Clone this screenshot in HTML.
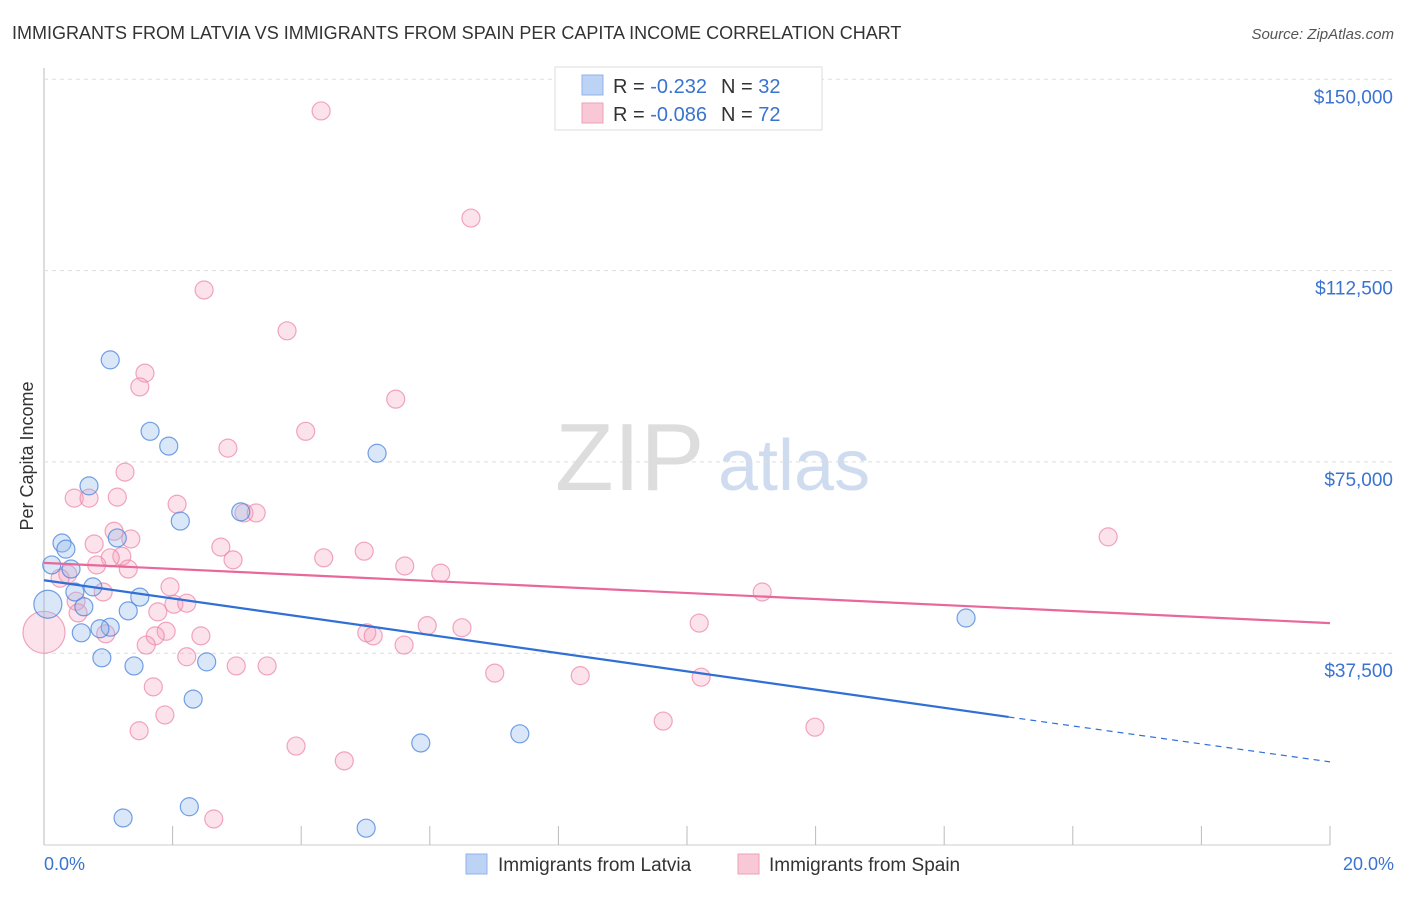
<!DOCTYPE html>
<html><head><meta charset="utf-8"><style>
body{margin:0;background:#fff;font-family:"Liberation Sans",sans-serif;}
svg text{font-family:"Liberation Sans",sans-serif;}
</style></head><body>
<svg id="c" width="1406" height="892">
<text x="12" y="39" font-size="18" fill="#333">IMMIGRANTS FROM LATVIA VS IMMIGRANTS FROM SPAIN PER CAPITA INCOME CORRELATION CHART</text>
<text x="1394" y="39" font-size="15" fill="#555" font-style="italic" text-anchor="end">Source: ZipAtlas.com</text>
<text x="33" y="456" font-size="18" fill="#333" text-anchor="middle" transform="rotate(-90 33 456)">Per Capita Income</text>
<text x="555" y="490" font-size="96" fill="#ddd" font-family="Liberation Serif">ZIP</text>
<text x="718" y="490" font-size="72" fill="#cfdcf0">atlas</text>
<g id="grid"></g><g id="pts"></g><g id="lines"></g>
<g>
<rect x="555" y="67" width="267" height="63" fill="#fff" stroke="#ddd"/>
<rect x="582" y="75" width="21" height="20" fill="#bcd3f5" stroke="#8fb3ea"/>
<rect x="582" y="103" width="21" height="20" fill="#f9c8d6" stroke="#f0a0b8"/>
<text x="613" y="93" font-size="20" fill="#333">R = <tspan fill="#3a73d0"> -0.232</tspan><tspan dx="14">N = </tspan><tspan fill="#3a73d0">32</tspan></text>
<text x="613" y="121" font-size="20" fill="#333">R = <tspan fill="#3a73d0">-0.086</tspan><tspan dx="14">N = </tspan><tspan fill="#3a73d0">72</tspan></text>
</g>
<g>
<rect x="466" y="854" width="21" height="20" fill="#bcd3f5" stroke="#8fb3ea"/>
<text x="498" y="871" font-size="19" fill="#333">Immigrants from Latvia</text>
<rect x="738" y="854" width="21" height="20" fill="#f9c8d6" stroke="#f0a0b8"/>
<text x="769" y="871" font-size="19" fill="#333">Immigrants from Spain</text>
</g>
<text x="44" y="870" font-size="18" fill="#3a73d0">0.0%</text>
<text x="1394" y="870" font-size="18" fill="#3a73d0" text-anchor="end">20.0%</text>
</svg>
<script>
const yTicks=[37500,75000,112500,150000];
const yTickLabels=["$37,500","$75,000","$112,500","$150,000"];
const latviaX=[1.03,1.65,1.94,5.18,0.70,2.12,3.06,0.28,0.34,1.14,0.12,0.42,0.76,0.48,1.49,0.62,1.31,14.34,1.03,0.87,0.58,0.90,1.40,2.53,2.32,5.86,7.40,2.26,1.23,5.01,0.06];
const latviaY=[95000,81000,78100,76700,70300,63400,65200,59100,57900,60100,54800,54000,50500,49500,48500,46600,45800,44400,42600,42300,41500,36600,35000,35800,28500,19900,21700,7400,5200,3200,47100];
const spainX=[4.31,6.64,2.49,3.78,1.57,1.49,5.47,4.07,2.86,1.26,0.47,0.70,1.14,2.07,3.11,3.30,16.55,1.09,1.35,0.78,2.75,4.98,1.21,4.35,2.94,1.03,0.82,1.31,5.61,6.17,0.37,0.25,1.96,11.17,0.92,0.50,2.02,2.22,1.77,0.53,10.19,5.96,6.50,1.90,2.44,1.73,0.96,5.02,5.12,1.59,5.60,2.22,2.99,3.47,7.01,8.34,10.22,1.70,1.88,1.48,9.63,11.99,3.92,4.67,2.64,0.0];
const spainY=[143800,122800,108700,100700,92400,89700,87300,81000,77700,73000,67900,67900,68100,66700,65000,65000,60300,61400,59900,58900,58300,57500,56500,56200,55800,56200,54800,54000,54600,53200,53000,52200,50500,49500,49500,47700,47100,47300,45600,45400,43400,42900,42500,41800,40900,40900,41300,41500,40900,39100,39100,36800,35000,35000,33600,33100,32800,30900,25400,22300,24200,23000,19300,16400,5000,41600];
const latviaTrend=[51800,25000,16200];
const spainTrend=[55200,43400];
const X=v=>44+v*64.3, Y=v=>844.5-v/196.03;
const NS="http://www.w3.org/2000/svg";
function mk(p,t,a){const e=document.createElementNS(NS,t);for(const k in a)e.setAttribute(k,a[k]);p.appendChild(e);return e;}
const grid=document.getElementById('grid');
const l1=mk(grid,'line',{x1:44,y1:68,x2:44,y2:845,stroke:'#bbb'});


const l2=mk(grid,'line',{x1:44,y1:845,x2:1330,y2:845,stroke:'#ccc'});


yTicks.forEach((t,i)=>{
 const g=mk(grid,'line',{x1:44,y1:Y(t),x2:1394,y2:Y(t),stroke:'#ddd','stroke-dasharray':'4,4'});
 
 
 const tx=mk(grid,'text',{x:1393,y:Y(t)+24,'font-size':19,fill:'#3a73d0','text-anchor':'end'});
 tx.textContent=yTickLabels[i];
 
 
});
for(let i=1;i<=10;i++){const tk=mk(grid,'line',{x1:X(i*2),y1:826,x2:X(i*2),y2:845,stroke:'#bbb'});
 
 }
const pts=document.getElementById('pts');
spainX.forEach((x,i)=>{const big=i===spainX.length-1;
 const c=mk(pts,'circle',{cx:X(x),cy:Y(spainY[i]),r:big?21:9,fill:'rgba(245,160,185,0.3)',stroke:'rgba(235,130,165,0.7)','stroke-width':1.2});
 
 });
latviaX.forEach((x,i)=>{const big=i===latviaX.length-1;
 const c=mk(pts,'circle',{cx:X(x),cy:Y(latviaY[i]),r:big?14:9,fill:'rgba(150,185,235,0.35)',stroke:'rgba(70,130,220,0.75)','stroke-width':1.2});
 
 });
const lines=document.getElementById('lines');
const a=mk(lines,'line',{x1:X(0),y1:Y(spainTrend[0]),x2:X(20),y2:Y(spainTrend[1]),stroke:'#e8689a','stroke-width':2.2});


const b=mk(lines,'line',{x1:X(0),y1:Y(latviaTrend[0]),x2:X(15),y2:Y(latviaTrend[1]),stroke:'#2f6fd6','stroke-width':2.2});


const d=mk(lines,'line',{x1:X(15),y1:Y(latviaTrend[1]),x2:X(20),y2:Y(latviaTrend[2]),stroke:'#2f6fd6','stroke-width':1.2,'stroke-dasharray':'6,5'});


</script>
</body></html>
